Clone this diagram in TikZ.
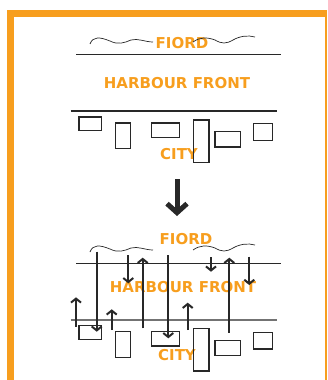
\documentclass[tikz,border=0pt]{standalone}
\usepackage{fontspec}
\setsansfont{DejaVu Sans}
\usetikzlibrary{arrows.meta}
\definecolor{hborange}{RGB}{247,158,30}
\definecolor{hbdark}{RGB}{40,40,40}
\definecolor{hbgray}{RGB}{115,115,115}

\begin{document}
\begin{tikzpicture}[x=1pt, y=-1pt,
  zone/.style={hborange, inner sep=0pt, font=\sffamily\bfseries\fontsize{15}{15}\selectfont},
  block/.style={hbdark, line width=1.3pt},
  shore/.style={hbdark, line width=1.3pt},
  wave/.style={hbdark, line width=0.7pt},
  flow/.style={hbdark, line width=2pt, -{Straight Barb[length=4pt,width=10pt]}}]
\useasboundingbox (0,0) rectangle (327,380);
% Orange frame
\fill[hborange] (7,9.5) rectangle (14,380);
\fill[hborange] (7,9.5) rectangle (326.5,16.5);
\fill[hborange] (324.8,9.5) rectangle (326.5,380);
% Before: labels
\node[zone] (fiordA) at (182,43) {FIORD};
\node[zone] (harbourA) at (177,83) {HARBOUR FRONT};
\node[zone] (cityA) at (179,154) {CITY};
% Before: fiord waves
\draw[wave] (90,44) .. controls (93,36) and (100,37) .. (110,41)
  .. controls (118,45) and (124,43) .. (131,40)
  .. controls (138,38) and (145,42) .. (153,42);
\draw[wave] (193,42) .. controls (200,37) and (207,37) .. (215,40)
  .. controls (222,44) and (226,44) .. (233,40)
  .. controls (240,36) and (248,35) .. (255,37);
% Before: shore lines
\draw[shore] (76,54.5) -- (280.5,54.5);
\draw[shore, line width=1.1pt] (70.5,111) -- (277,111);
% Before: city blocks
\draw[block] (79,117) rectangle (101.7,130.7);
\draw[block] (115.3,123) rectangle (130.7,148.7);
\draw[block] (151.7,123) rectangle (179.3,137.7);
\draw[block] (193.3,120) rectangle (209,162.3);
\draw[block] (215,131.7) rectangle (240.3,147);
\draw[block] (253.7,123.7) rectangle (272.7,140.3);
% Transition arrow
\draw[hbdark, line width=5pt, -{Straight Barb[length=9pt,width=20pt]}] (177,179) -- (177,216);
% After: labels
\node[zone] (fiordB) at (186,239) {FIORD};
\node[zone] (harbourB) at (183,287) {HARBOUR FRONT};
\node[zone] (cityB) at (177,355) {CITY};
% After: fiord waves
\begin{scope}[yshift=-208pt]
\draw[wave] (90,44) .. controls (93,36) and (100,37) .. (110,41)
  .. controls (118,45) and (124,43) .. (131,40)
  .. controls (138,38) and (145,42) .. (153,42);
\draw[wave] (193,42) .. controls (200,37) and (207,37) .. (215,40)
  .. controls (222,44) and (226,44) .. (233,40)
  .. controls (240,36) and (248,35) .. (255,37);
\end{scope}
% After: shore lines
\draw[shore, line width=1.1pt] (76,263.3) -- (280.5,263.3);
\draw[hbgray, line width=1.3pt] (70.5,320) -- (277,320);
% After: city blocks
\draw[block] (79,325.7) rectangle (101.7,339.3);
\draw[block] (115.3,331.7) rectangle (130.7,357.3);
\draw[block] (151.7,331.7) rectangle (179.3,346);
\draw[block] (193.3,328.7) rectangle (209,371);
\draw[block] (215,340.3) rectangle (240.3,355.7);
\draw[block] (253.7,332.3) rectangle (272.7,349);
% After: movements up and down
\draw[flow] (76,326.7) -- (76,297.3);
\draw[flow] (96.7,251.7) -- (96.7,331.7);
\draw[flow] (111.7,330) -- (111.7,309.3);
\draw[flow] (128.3,255) -- (128.3,283.3);
\draw[flow] (142.7,328.3) -- (142.7,257.7);
\draw[flow] (168.3,255) -- (168.3,338.3);
\draw[flow] (187.7,330) -- (187.7,302.7);
\draw[flow] (211,257.3) -- (211,271.7);
\draw[flow] (229.3,332.7) -- (229.3,257.7);
\draw[flow] (249.3,256.7) -- (249.3,285);
\end{tikzpicture}
\end{document}
